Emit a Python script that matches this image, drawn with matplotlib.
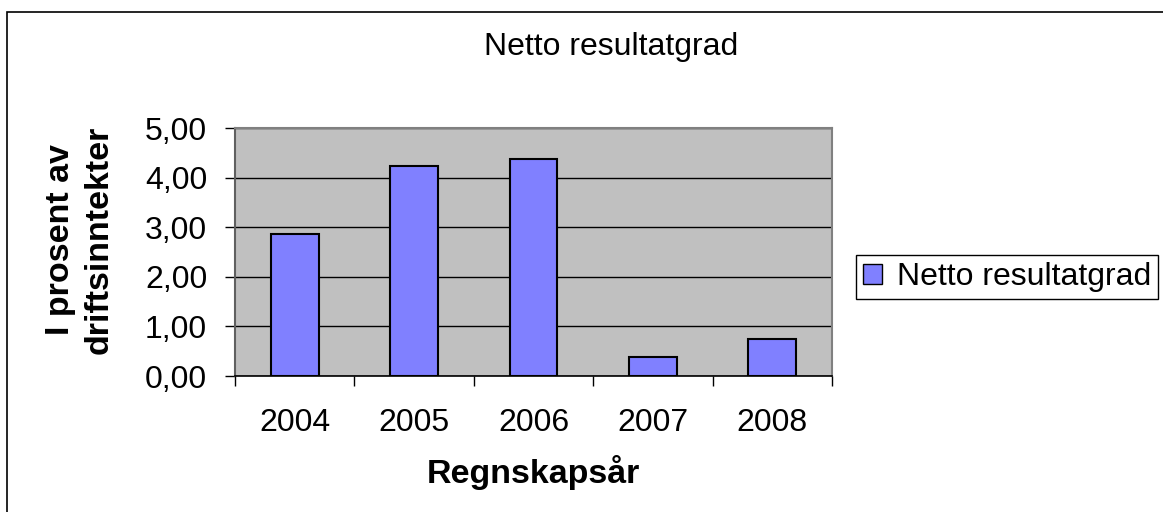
import matplotlib
matplotlib.use("Agg")
import matplotlib.pyplot as plt
from matplotlib.patches import Rectangle
import numpy as np

years = ["2004", "2005", "2006", "2007", "2008"]
values = [2.86, 4.23, 4.38, 0.39, 0.74]
yticks = [0, 1, 2, 3, 4, 5]
ytick_labels = ["0,00", "1,00", "2,00", "3,00", "4,00", "5,00"]
series_name = "Netto resultatgrad"

plt.rcParams['font.family'] = ['Liberation Sans', 'DejaVu Sans']

W, H = 1163, 512
FS = 23
FSB = 24.5
fig = plt.figure(figsize=(W / 100, H / 100), dpi=100)

# outer chart border (right and bottom edges fall outside the image)
fig.patches.append(Rectangle((7 / W, -0.2), 1.2, 1.2 - 12 / H, transform=fig.transFigure,
                             fill=False, edgecolor='black', linewidth=1.2))

ax = fig.add_axes([235 / W, 1 - 376 / H, (832 - 235) / W, (376 - 128) / H])
ax.set_facecolor('#C0C0C0')
x = np.arange(len(years))
bars = ax.bar(x, values, width=0.40, color='#8080FF', edgecolor='black',
              linewidth=1.5, label=series_name, zorder=3)
ax.set_xlim(-0.5, len(years) - 0.5)
ax.set_ylim(0, 5)
ax.set_yticks(yticks)
ax.set_yticklabels(ytick_labels, fontsize=FS)
ax.yaxis.grid(True, color='black', linewidth=1.0, zorder=1)
ax.set_axisbelow(True)
ax.set_xticks(x)
ax.set_xticklabels(years, fontsize=FS)
ax.set_xticks(np.arange(-0.5, len(years), 1.0), minor=True)
ax.tick_params(axis='x', which='major', length=0, pad=23)
ax.tick_params(axis='x', which='minor', length=7, width=1, direction='out', color='black')
ax.tick_params(axis='y', length=7, width=1, direction='out', color='black', pad=13)

for s in ['top', 'right']:
    ax.spines[s].set_color('#808080')
    ax.spines[s].set_linewidth(1.5)
ax.spines['left'].set_color('#606060')
ax.spines['left'].set_linewidth(1.5)
ax.spines['bottom'].set_color('black')
ax.spines['bottom'].set_linewidth(1.2)

fig.text(611 / W, 1 - 47 / H, "Netto resultatgrad", fontsize=FS, ha='center', va='center')
fig.text(533 / W, 1 - 473 / H, "Regnskapsår", fontsize=FSB, fontweight='bold',
         ha='center', va='center')
fig.text(80 / W, 1 - 240 / H, "I prosent av\ndriftsinntekter", fontsize=FSB,
         fontweight='bold', rotation=90, ha='center', va='center', linespacing=1.3,
         multialignment='center')

leg = fig.legend(handles=[bars], labels=[series_name], loc='upper left',
                 bbox_to_anchor=(856 / W, 1 - 255 / H), fontsize=FS, frameon=True,
                 fancybox=False, edgecolor='black', framealpha=1,
                 handlelength=0.6, handleheight=0.6, handletextpad=0.45,
                 borderpad=0.22, borderaxespad=0)
leg.get_frame().set_linewidth(1.0)
for p in leg.get_patches():
    p.set_linewidth(1.0)

fig.savefig("out.png", dpi=100)
